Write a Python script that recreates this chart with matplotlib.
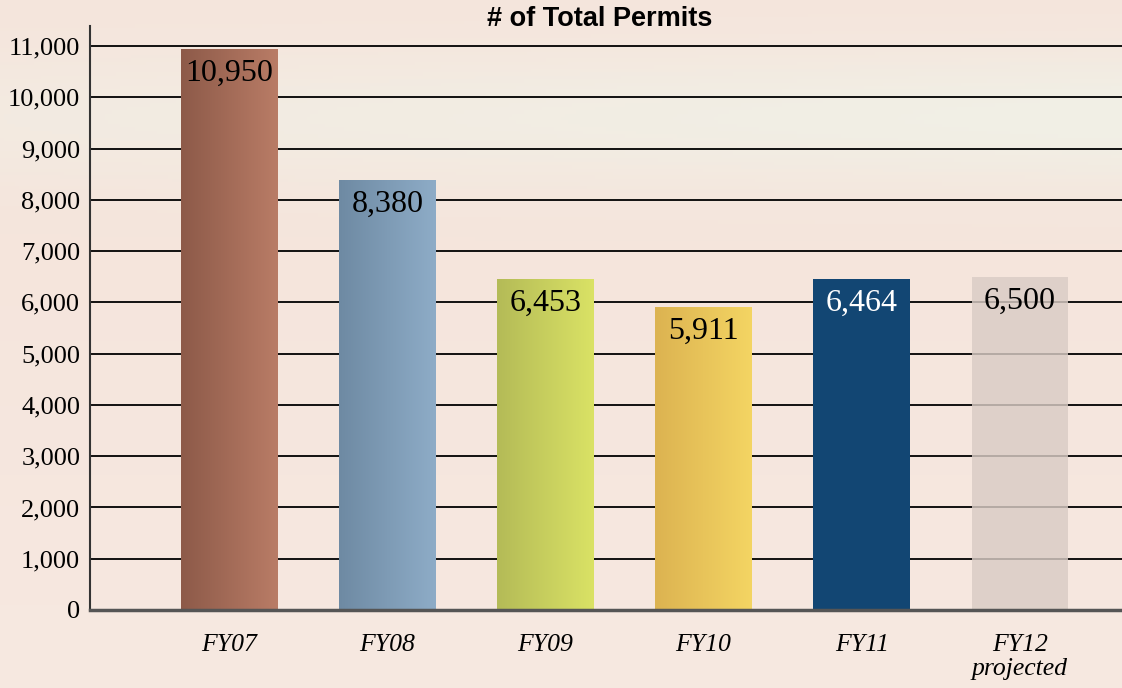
import numpy as np
import matplotlib
matplotlib.use("Agg")
import matplotlib.pyplot as plt
from matplotlib.colors import LinearSegmentedColormap, to_rgb
from matplotlib.ticker import FuncFormatter

categories = ["FY07", "FY08", "FY09", "FY10", "FY11", "FY12\nprojected"]
permits = [10950, 8380, 6453, 5911, 6464, 6500]
value_labels = ["10,950", "8,380", "6,453", "5,911", "6,464", "6,500"]
title = "# of Total Permits"
yticks = list(range(0, 11001, 1000))

# style: (left colour, right colour, alpha, label colour)
bar_styles = [
    ("#8d5a49", "#b97c66", 1.0, "black"),
    ("#6e8aa3", "#8eacc7", 1.0, "black"),
    ("#b4bb57", "#dae265", 1.0, "black"),
    ("#dcb351", "#f4d563", 1.0, "black"),
    ("#124673", "#124673", 1.0, "white"),
    ("#d9ccc5", "#d9ccc5", 0.82, "black"),
]

W, H = 1122, 688
fig = plt.figure(figsize=(W / 100, H / 100), dpi=100)

# background texture-like gradient
bg_ax = fig.add_axes([0, 0, 1, 1], zorder=-10)
yy = np.linspace(0, 1, 200)[:, None]
xx = np.linspace(0, 1, 300)[None, :]
peach = np.array(to_rgb("#f5e5dc"))
cream = np.array(to_rgb("#f1f0e6"))
pink = np.array(to_rgb("#f8ebe4"))
band = np.exp(-((yy - 0.17) / 0.1) ** 2) * (0.5 + 0.5 * xx)
low = np.clip((yy - 0.3) / 0.7, 0, 1)
img = peach[None, None, :] * (1 - band[..., None]) + cream[None, None, :] * band[..., None]
img = img * (1 - 0.6 * low[..., None]) + pink[None, None, :] * 0.6 * low[..., None]
img = np.clip(img, 0, 1)
bg_ax.imshow(img, aspect="auto", extent=[0, 1, 0, 1], origin="upper")
bg_ax.axis("off")

ax = fig.add_axes([90 / W, (H - 610) / H, 1 - 90 / W, (610 - 26) / H])
ax.patch.set_alpha(0)

x = np.arange(len(categories))
width = 0.61
bars = ax.bar(x, permits, width=width, zorder=3)
for b, (c0, c1, a, _) in zip(bars, bar_styles):
    b.set_facecolor(c0)
    b.set_alpha(a)
    b.set_edgecolor("none")
    if c0 != c1:
        cmap = LinearSegmentedColormap.from_list("g", [c0, c1])
        grad = np.linspace(0, 1, 256)[None, :]
        x0 = b.get_x()
        im = ax.imshow(grad, cmap=cmap, aspect="auto",
                       extent=[x0, x0 + b.get_width(), 0, b.get_height()],
                       zorder=3.5, interpolation="bicubic")
        im.set_clip_path(b)

for b, lab, st in zip(bars, value_labels, bar_styles):
    ax.annotate(lab, (b.get_x() + b.get_width() / 2, b.get_height()),
                xytext=(0, -17.5), textcoords="offset points",
                ha="center", va="center", fontsize=23,
                family="Liberation Serif", color=st[3], zorder=5)

ax.set_xlim(-0.88, 5.646)
ax.set_ylim(0, 11390)
ax.set_yticks(yticks)
ax.yaxis.set_major_formatter(FuncFormatter(lambda v, p: f"{int(v):,}"))
ax.set_xticks(x)
ax.set_xticklabels(categories, family="Liberation Serif", style="italic",
                   fontsize=18.5, linespacing=1.15)
for t in ax.get_yticklabels():
    t.set_family("Liberation Serif")
    t.set_fontsize(19)
ax.tick_params(axis="y", length=0, pad=7)
ax.tick_params(axis="x", length=0, pad=17)

ax.grid(axis="y", color="black", linewidth=1.3, zorder=1)
ax.set_axisbelow(True)
for s in ["top", "right"]:
    ax.spines[s].set_visible(False)
ax.spines["left"].set_color("#333333")
ax.spines["left"].set_linewidth(1.5)
ax.spines["bottom"].set_color("#555555")
ax.spines["bottom"].set_linewidth(2.5)
ax.spines["bottom"].set_zorder(6)

fig.text(600 / W, 1 - 19 / H, title, ha="center", va="center",
         fontsize=19.5, fontweight="bold", family="Liberation Sans")

fig.savefig("out.png", dpi=100)
